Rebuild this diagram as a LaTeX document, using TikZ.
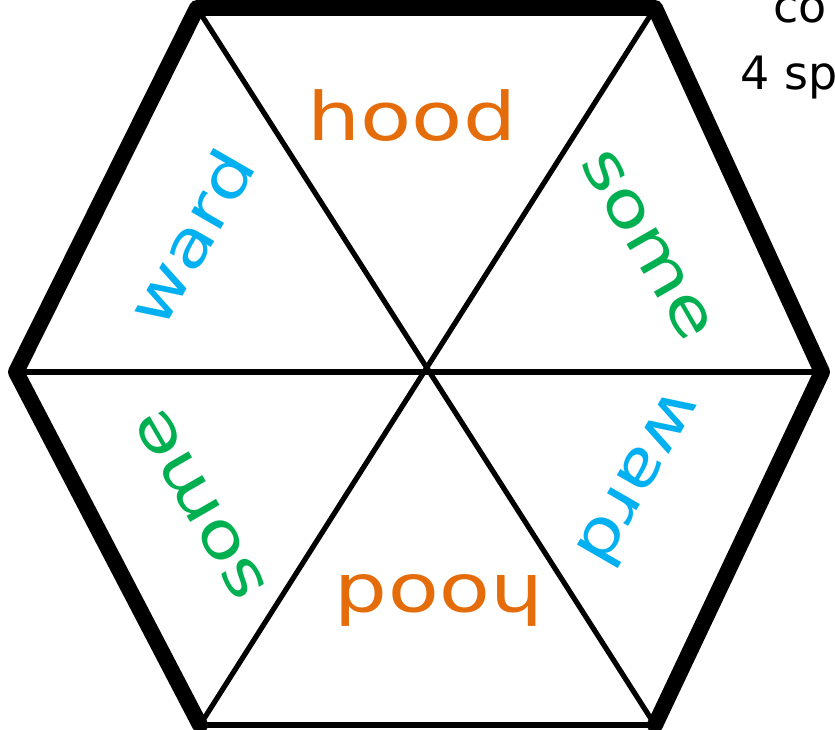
\documentclass[tikz,border=0pt]{standalone}
\usepackage{fontspec}
\setmainfont{DejaVu Sans}
\newfontfamily\handfont[FakeStretch=1.25]{DejaVu Sans}
\definecolor{horange}{RGB}{228,108,10}
\definecolor{hblue}{RGB}{0,176,240}
\definecolor{hgreen}{RGB}{0,176,80}
\begin{document}
\begin{tikzpicture}[x=1pt,y=-1pt,
  thickedge/.style={line width=16pt, line join=round, line cap=round},
  thinline/.style={line width=5.2pt},
  word/.style={font=\handfont\fontsize{62}{64}\selectfont, inner sep=0pt},
  bigword/.style={font=\handfont\fontsize{67}{70}\selectfont, inner sep=0pt},
  caption/.style={font=\fontsize{46}{50}\selectfont, anchor=base west, inner sep=0pt}]
\useasboundingbox (0,0) rectangle (835,730);
\coordinate (TL) at (197,8);
\coordinate (TR) at (655,8);
\coordinate (R) at (822,372);
\coordinate (BR) at (655,725);
\coordinate (BL) at (200,725);
\coordinate (L) at (16,372);
\draw[thinline] (L) -- (R);
\draw[thinline] (TL) -- (BR);
\draw[thinline] (TR) -- (BL);
\draw[thinline] (BL) -- (BR);
\draw[thickedge] (BL) -- (L) -- (TL) -- (TR) -- (R) -- (BR);
\node[bigword, text=horange] (hoodtop) at (412,116) {hood};
\node[rotate=180, bigword, text=horange] (hoodbot) at (439,600) {hood};
\node[rotate=-60, word, text=hgreen] (someur) at (647,245) {some};
\node[rotate=120, word, text=hgreen] (somell) at (200,505) {some};
\node[rotate=60, word, text=hblue] (wardul) at (190,237) {ward};
\node[rotate=240, word, text=hblue] (wardlr) at (642,480) {ward};
\node[caption] (cap1) at (773,23) {co};
\node[caption] (cap2) at (740,90) {4 sp};
\end{tikzpicture}
\end{document}
